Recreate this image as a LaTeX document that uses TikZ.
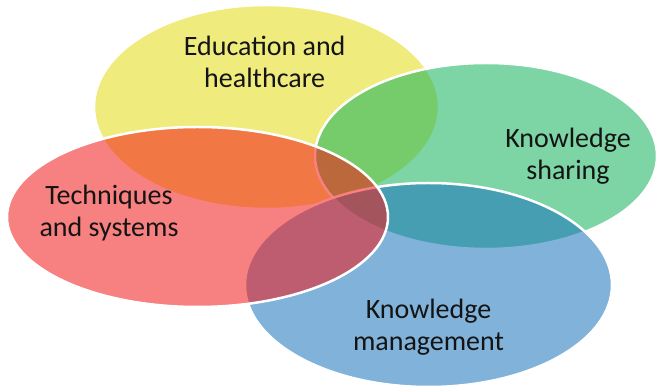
\documentclass[tikz,border=0pt]{standalone}
\usepackage{fontspec}
\setmainfont{Carlito}
\definecolor{cyellow}{RGB}{228,219,19}
\definecolor{cgreen}{RGB}{19,177,91}
\definecolor{cblue}{RGB}{24,115,188}
\definecolor{cred}{RGB}{242,24,24}
\definecolor{ctext}{RGB}{20,20,20}
\begin{document}
\begin{tikzpicture}[x=1pt,y=1pt,
  petal/.style={draw=white, line width=2.5pt, fill opacity=0.55},
  label/.style={text=ctext, align=center, anchor=base, inner sep=0pt,
    font=\fontsize{28}{32}\selectfont}]
  \useasboundingbox (0,0) rectangle (657,388);
  % overlapping ellipses, later ones drawn on top
  \fill[white] (0,0) rectangle (657,388);
  \draw[petal, fill=cyellow] (266.5,281) ellipse [x radius=172.5, y radius=102];
  \draw[petal, fill=cgreen]  (486,232)   ellipse [x radius=171,   y radius=93];
  \draw[petal, fill=cblue]   (428.5,103) ellipse [x radius=183.5, y radius=102];
  \draw[petal, fill=cred]    (197.5,171) ellipse [x radius=190.5, y radius=90];
  % labels (anchored at the baseline of their last line)
  \node[label] (edu)   at (264.7,300.3) {Education and\\healthcare};
  \node[label] (share) at (568,208)     {Knowledge\\sharing};
  \node[label] (tech)  at (109,151.3)   {Techniques\\and systems};
  \node[label] (mgmt)  at (428.5,37)    {Knowledge\\management};
\end{tikzpicture}
\end{document}
